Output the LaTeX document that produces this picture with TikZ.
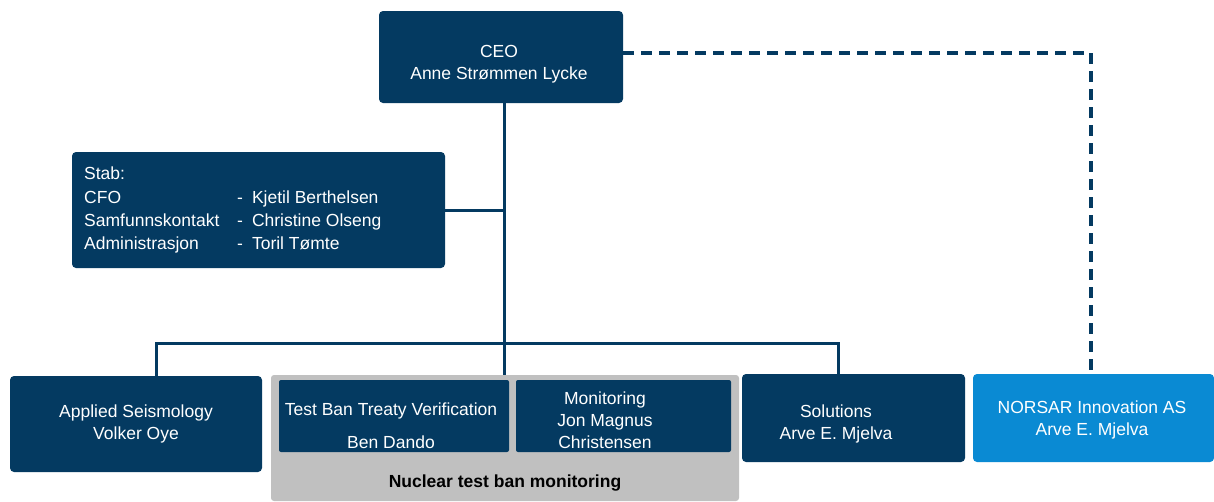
\documentclass[tikz,border=0pt]{standalone}
\usepackage{fontspec}
\setmainfont{Liberation Sans}
\definecolor{navy}{HTML}{043A61}
\definecolor{skyblue}{HTML}{0A8AD3}
\definecolor{panelgray}{HTML}{C0C0C0}
\begin{document}
\begin{tikzpicture}[x=1pt,y=-1pt,
  txt/.style={font=\fontsize{17.5}{22}\selectfont, align=center, inner sep=0pt},
  unit/.style={fill=navy, rounded corners=4pt, inner sep=0pt, text=white, txt},
  subunit/.style={fill=navy, rounded corners=2pt, inner sep=0pt, text=white, txt},
  conn/.style={draw=navy, line width=3pt},
  dotted link/.style={draw=navy, line width=3.2pt, dash pattern=on 11pt off 7pt}]
\useasboundingbox (0,0) rectangle (1214,501);

% top management
\node[unit, minimum width=244pt, minimum height=92pt] (ceo) at (501,57) {};
\node[txt, text=white] (ceotext) at (499,64) {CEO\\Anne Strømmen Lycke};

% staff box
\node[unit, minimum width=373pt, minimum height=116pt] (stab) at (258.5,210) {};
\node[txt, font=\fontsize{17.5}{23.3}\selectfont, text=white, anchor=north west, align=left] (stabtext) at (84,167)
  {Stab:\\
   \makebox[153pt][l]{CFO}-\hspace{9pt}Kjetil Berthelsen\\
   \makebox[153pt][l]{Samfunnskontakt}-\hspace{9pt}Christine Olseng\\
   \makebox[153pt][l]{Administrasjon}-\hspace{9pt}Toril Tømte};

% departments
\node[unit, minimum width=252pt, minimum height=96pt] (applied) at (136,424)
  {Applied Seismology\\Volker Oye};

\path[fill=panelgray, rounded corners=3pt] (271,501) -- (271,375) -- (739,375) -- (739,501) -- cycle;
\coordinate (gray) at (505,375);
\node[txt, font=\fontsize{17.5}{22}\selectfont\bfseries, text=black] (ntbm) at (505,483)
  {Nuclear test ban monitoring};

\node[subunit, minimum width=230pt, minimum height=72pt] (tbtv) at (394,416) {};
\node[txt, text=white] (tbtvtext) at (391,426)
  {Test Ban Treaty Verification\\[11pt]Ben Dando};

\node[subunit, minimum width=215pt, minimum height=72pt] (monit) at (623.5,416) {};
\node[txt, text=white] (monittext) at (605,420)
  {Monitoring\\Jon Magnus\\Christensen};

\node[unit, minimum width=223pt, minimum height=88pt] (solutions) at (853.5,418) {};
\node[txt, text=white] (soltext) at (836,424) {Solutions\\Arve E. Mjelva};

\node[unit, fill=skyblue, minimum width=241pt, minimum height=88pt] (norsar) at (1093.5,418) {};
\node[txt, text=white] (nortext) at (1092,420) {NORSAR Innovation AS\\Arve E. Mjelva};

% reporting lines
\coordinate (hub) at (504,343);
\coordinate (busL) at (156,343);
\coordinate (busR) at (838,343);
\coordinate (corner) at (1091,53);

\draw[conn] (ceo.south -| hub) -- (hub) -- (gray -| hub);
\draw[conn] (stab.east) -- (stab.east -| hub);
\draw[conn] (applied.north -| busL) -- (busL) -- (busR) -- (solutions.north -| busR);
\draw[dotted link] (ceo.east |- corner) -- (corner) -- (norsar.north -| corner);
\end{tikzpicture}
\end{document}
